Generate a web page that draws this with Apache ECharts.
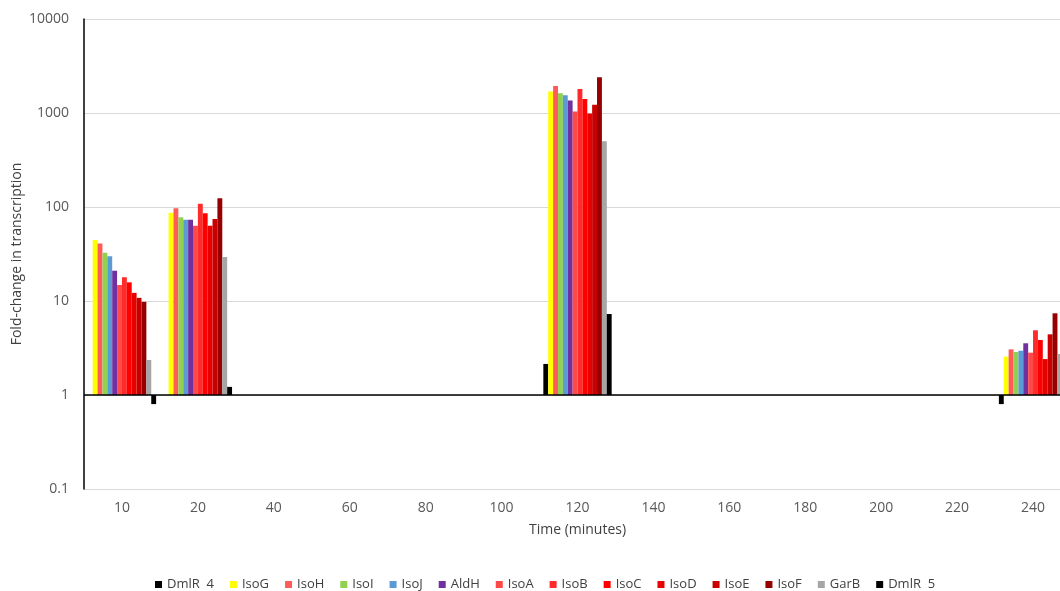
<!DOCTYPE html>
<html>
<head>
<meta charset="utf-8">
<script src="https://cdn.jsdelivr.net/npm/echarts@6/dist/echarts.min.js"></script>
<style>
  html, body {margin: 0; padding: 0; background: #fff;}
  #chart {width: 1060px; height: 591px;}
</style>
</head>
<body>
<div id="chart"></div>
<script>
// time points (minutes)
const categories = ['10', '20', '40', '60', '80', '100', '120', '140', '160', '180', '200', '220', '240'];

// fold-change values per gene, one entry per time point (null = no bar)
const dmlR4 = [1, 1, null, null, null, null, 2.14, null, null, null, null, null, 0.8];
const isoG = [44.6, 87, null, null, null, null, 1690, null, null, null, null, null, 2.56];
const isoH = [41, 97, null, null, null, null, 1940, null, null, null, null, null, 3.06];
const isoI = [32.6, 78, null, null, null, null, 1620, null, null, null, null, null, 2.87];
const isoJ = [30, 73, null, null, null, null, 1540, null, null, null, null, null, 2.96];
const aldH = [21, 73, null, null, null, null, 1360, null, null, null, null, null, 3.55];
const isoA = [14.8, 63, null, null, null, null, 1040, null, null, null, null, null, 2.82];
const isoB = [17.9, 108, null, null, null, null, 1800, null, null, null, null, null, 4.88];
const isoC = [15.8, 86, null, null, null, null, 1410, null, null, null, null, null, 3.85];
const isoD = [12.2, 63, null, null, null, null, 985, null, null, null, null, null, 2.41];
const isoE = [10.8, 74.5, null, null, null, null, 1225, null, null, null, null, null, 4.42];
const isoF = [9.8, 124, null, null, null, null, 2400, null, null, null, null, null, 7.4];
const garB = [2.36, 29.4, null, null, null, null, 500, null, null, null, null, null, 2.73];
const dmlR5 = [0.8, 1.22, null, null, null, null, 7.27, null, null, null, null, null, 1];

const seriesNames = ['DmlR  4', 'IsoG', 'IsoH', 'IsoI', 'IsoJ', 'AldH', 'IsoA', 'IsoB', 'IsoC', 'IsoD', 'IsoE', 'IsoF', 'GarB', 'DmlR  5'];
const seriesData = [dmlR4, isoG, isoH, isoI, isoJ, aldH, isoA, isoB, isoC, isoD, isoE, isoF, garB, dmlR5];
const colors = ['#000000', '#FFFF00', '#FF5B5B', '#92D050', '#5B9BD5', '#7030A0', '#FF4848', '#FF2A2A',
    '#FF0000', '#E60000', '#C80000', '#960000', '#A6A6A6', '#000000'];

const font = "'Open Sans', sans-serif";
const myChart = echarts.init(document.getElementById('chart'));

const series = seriesNames.map((name, i) => ({
    name: name,
    type: 'bar',
    barGap: 0,
    barCategoryGap: '10%',
    itemStyle: {color: colors[i]},
    data: seriesData[i]
}));
// black baseline at fold-change 1
series[0].markLine = {
    silent: true,
    symbol: 'none',
    label: {show: false},
    lineStyle: {color: '#000', width: 1.5, type: 'solid'},
    data: [{yAxis: 1}]
};

myChart.setOption({
    animation: false,
    textStyle: {fontFamily: font},
    grid: {left: 84, top: 19, right: -11, bottom: 102, containLabel: false, outerBoundsMode: 'none'},
    legend: {
        data: seriesNames,
        left: 150,
        top: 573,
        icon: 'rect',
        itemWidth: 7,
        itemHeight: 7,
        itemGap: 16,
        textStyle: {fontFamily: font, fontSize: 13, color: '#404040'}
    },
    xAxis: {
        type: 'category',
        data: categories,
        name: 'Time (minutes)',
        nameLocation: 'middle',
        nameGap: 34,
        nameTextStyle: {fontFamily: font, fontSize: 14, color: '#404040'},
        axisLine: {show: false},
        axisTick: {show: false},
        axisLabel: {margin: 12, fontFamily: font, fontSize: 14, color: '#595959'}
    },
    yAxis: {
        type: 'log',
        logBase: 10,
        min: 0.1,
        max: 10000,
        name: 'Fold-change in transcription',
        nameLocation: 'middle',
        nameGap: 60,
        nameMoveOverlap: false,
        nameTextStyle: {fontFamily: font, fontSize: 14, color: '#404040'},
        axisLine: {show: true, lineStyle: {color: '#000', width: 1.5}},
        axisTick: {show: false},
        splitLine: {lineStyle: {color: '#D9D9D9', width: 1}},
        axisLabel: {
            margin: 15, fontFamily: font, fontSize: 14, color: '#595959',
            formatter: v => String(v)
        }
    },
    series: series
});
</script>
</body>
</html>
